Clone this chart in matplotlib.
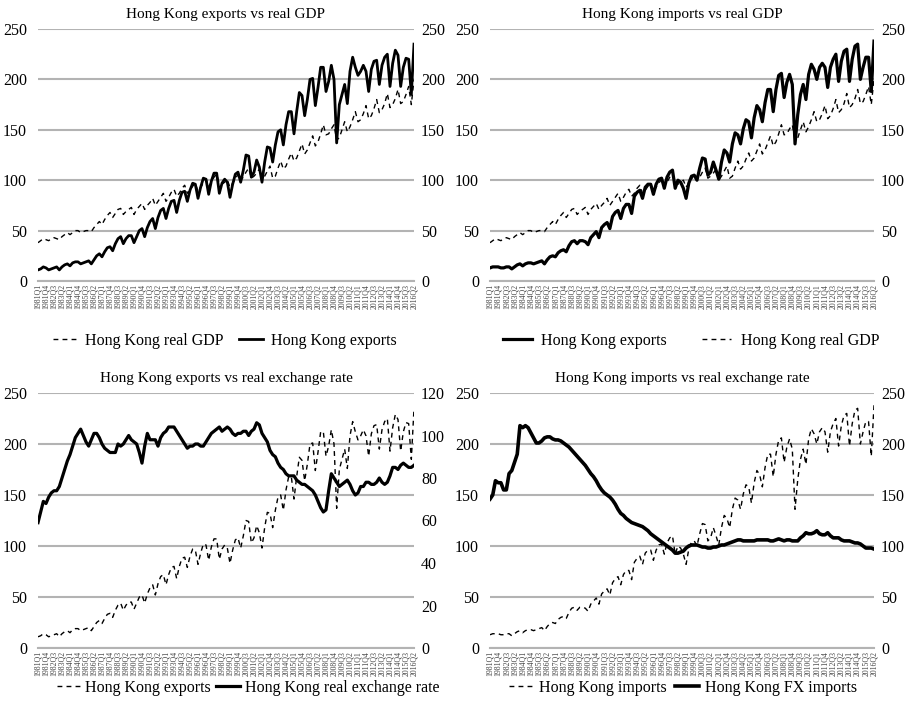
import matplotlib
matplotlib.use("Agg")
import matplotlib.pyplot as plt
from matplotlib.lines import Line2D

plt.rcParams['font.family'] = ['Liberation Serif', 'DejaVu Serif']

# quarterly data 1981Q1 .. 2016Q2 (142 quarters)
years = list(range(1981, 2017))
quarters = [f"{y}Q{q}" for y in years for q in range(1, 5)][:142]
tick_labels = quarters[::3]

exports = [
    11, 12, 14, 13,  11, 12, 13, 14,  11, 14, 16, 17,  15, 18, 19, 19,
    17, 18, 19, 20,  17, 21, 25, 27,  24, 29, 33, 34,  30, 37, 42, 44,
    37, 42, 45, 45,  38, 44, 50, 52,  44, 53, 59, 62,  52, 63, 70, 72,
    62, 72, 79, 80,  68, 80, 88, 89,  79, 90, 97, 96,  82, 93, 102, 101,
    86, 99, 107, 107,  87, 97, 101, 98,  83, 96, 106, 108,  98, 110, 125, 124,
    103, 108, 120, 113,  98, 118, 133, 132,  118, 135, 148, 150,  135, 155, 168, 168,
    146, 168, 187, 184,  164, 180, 200, 201,  174, 192, 212, 212,  188, 198, 214, 200,
    137, 175, 185, 195,  176, 208, 222, 212,  204, 208, 214, 208,  188, 210, 218, 219,
    195, 214, 222, 225,  193, 216, 229, 224,  193, 212, 221, 220,  185, 235,
]

real_gdp = [
    38, 40, 42, 41,  40, 42, 43, 42,  41, 44, 46, 48,  46, 48, 50, 50,
    48, 49, 50, 50,  49, 53, 56, 59,  56, 61, 65, 68,  63, 67, 71, 72,
    66, 69, 71, 73,  66, 71, 74, 77,  71, 75, 78, 82,  75, 79, 83, 87,
    79, 83, 88, 91,  84, 87, 92, 95,  87, 90, 94, 97,  89, 93, 97, 101,
    94, 98, 103, 106,  96, 96, 98, 100,  93, 97, 101, 106,  100, 103, 108, 112,
    102, 104, 107, 111,  100, 104, 109, 114,  102, 104, 112, 119,  111, 114, 121, 127,
    119, 122, 129, 136,  126, 130, 137, 144,  134, 138, 146, 155,  145, 146, 151, 155,
    140, 142, 150, 158,  148, 153, 160, 168,  158, 160, 166, 174,  161, 164, 171, 180,
    167, 170, 176, 186,  172, 175, 181, 190,  176, 178, 185, 193,  175, 200,
]

imports = [
    13, 14, 14, 14,  13, 13, 14, 14,  12, 14, 16, 17,  15, 17, 18, 18,
    17, 18, 19, 20,  17, 21, 24, 25,  24, 28, 30, 31,  29, 35, 39, 40,
    37, 40, 40, 39,  36, 43, 46, 49,  43, 53, 56, 58,  52, 64, 68, 70,
    62, 72, 76, 76,  67, 84, 88, 90,  82, 93, 96, 96,  86, 96, 101, 102,
    92, 103, 108, 110,  92, 100, 98, 92,  82, 97, 104, 105,  100, 112, 122, 121,
    105, 108, 118, 110,  101, 118, 130, 127,  118, 136, 147, 145,  136, 151, 160, 158,
    142, 162, 174, 170,  158, 177, 190, 190,  168, 190, 204, 206,  182, 197, 205, 195,
    136, 165, 185, 195,  180, 205, 215, 210,  200, 212, 216, 212,  192, 212, 220, 225,
    198, 218, 228, 230,  198, 220, 233, 235,  200, 212, 222, 222,  188, 238,
]

real_fx = [
    59, 64, 69, 68, 71, 73, 74, 74, 76, 80, 84, 88, 91, 95, 99, 101,
    103, 100, 97, 95, 98, 101, 101, 99, 96, 94, 93, 92, 92, 92, 96, 95,
    96, 98, 100, 98, 97, 96, 92, 87, 95, 101, 98, 98, 98, 95, 99, 101,
    102, 104, 104, 104, 102, 100, 98, 96, 94, 95, 95, 96, 96, 95, 95, 97,
    99, 101, 102, 103, 104, 102, 103, 104, 103, 101, 100, 101, 101, 102, 102, 100,
    102, 103, 106, 105, 101, 99, 97, 93, 91, 90, 87, 85, 84, 82, 81, 81,
    81, 79, 78, 77, 77, 76, 75, 74, 72, 69, 66, 64, 65, 74, 82, 80,
    78, 76, 77, 78, 79, 77, 74, 72, 73, 76, 76, 78, 78, 77, 77, 78,
    80, 78, 77, 78, 81, 85, 85, 84, 86, 87, 86, 85, 85, 86,
]

fx_imports = [
    146, 150, 164, 162, 162, 155, 155, 171, 174, 182, 190, 218, 216, 218, 216, 211,
    206, 201, 201, 203, 206, 207, 207, 205, 204, 204, 203, 201, 199, 197, 194, 191,
    188, 185, 182, 179, 175, 171, 168, 164, 159, 155, 152, 150, 148, 145, 141, 136,
    132, 130, 127, 125, 123, 122, 121, 120, 119, 117, 115, 112, 110, 108, 106, 104,
    102, 100, 98, 96, 93, 93, 94, 95, 98, 100, 101, 101, 101, 100, 99, 99,
    98, 98, 99, 99, 100, 101, 101, 102, 103, 104, 105, 106, 106, 105, 105, 105,
    105, 105, 106, 106, 106, 106, 106, 105, 105, 106, 107, 106, 105, 106, 106, 105,
    105, 105, 108, 110, 113, 112, 112, 113, 115, 112, 111, 111, 113, 110, 108, 108,
    108, 106, 105, 105, 105, 104, 103, 103, 102, 100, 98, 98, 98, 97,
]

W, H = 912, 709
GRID = '#b3b3b3'
DASH = (0, (3.5, 3))

fig = plt.figure(figsize=(W / 100, H / 100), dpi=100)


def px_axes(x0, y_top, x1, y_bot):
    return fig.add_axes([x0 / W, 1 - y_bot / H, (x1 - x0) / W, (y_bot - y_top) / H])


def setup_panel(ax, title, right_max, right_step):
    x = list(range(len(quarters)))
    ax.set_xlim(0, len(quarters) - 1)
    ax.set_ylim(0, 250)
    ax.set_yticks(range(0, 251, 50))
    ax.yaxis.grid(True, color=GRID, linewidth=1.5)
    ax.set_axisbelow(True)
    for s in ['top', 'right', 'left']:
        ax.spines[s].set_visible(False)
    ax.spines['bottom'].set_color(GRID)
    ax.spines['bottom'].set_linewidth(1.5)
    ax.set_xticks(x[::3])
    ax.set_xticklabels(tick_labels, rotation=90, fontsize=5.6, color='#444444')
    ax.tick_params(axis='both', length=0)
    ax.tick_params(axis='x', pad=2)
    ax.tick_params(axis='y', labelsize=11.5, pad=8)
    ax.set_title(title, fontsize=11, pad=8)

    ax2 = ax.twinx()
    ax2.set_ylim(0, right_max)
    ax2.set_yticks(range(0, right_max + 1, right_step))
    ax2.tick_params(axis='y', length=0, labelsize=11.5, pad=5)
    for s in ax2.spines.values():
        s.set_visible(False)
    return x, ax2


def add_legend(handles, labels, cx, cy, hl, cs, tp):
    fig.legend(handles=handles, labels=labels, loc='center',
               bbox_to_anchor=(cx / W, 1 - cy / H), ncol=2, frameon=False,
               fontsize=11.5, handlelength=hl, columnspacing=cs,
               handletextpad=tp)


# top left
ax = px_axes(38, 29, 414, 281)
x, ax2 = setup_panel(ax, 'Hong Kong exports vs real GDP', 250, 50)
ax.plot(x, exports, color='black', linewidth=2.0)
ax2.plot(x, real_gdp, color='black', linewidth=1.0, linestyle=DASH)
add_legend([Line2D([], [], color='black', lw=1.0, ls=DASH),
            Line2D([], [], color='black', lw=2.0)],
           ['Hong Kong real GDP', 'Hong Kong exports'], 225, 341, 1.5, 1.0, 0.5)

# top right
ax = px_axes(490, 29, 874, 281)
x, ax2 = setup_panel(ax, 'Hong Kong imports vs real GDP', 250, 50)
ax.plot(x, imports, color='black', linewidth=2.3)
ax2.plot(x, real_gdp, color='black', linewidth=1.0, linestyle=DASH)
add_legend([Line2D([], [], color='black', lw=2.3),
            Line2D([], [], color='black', lw=1.0, ls=DASH)],
           ['Hong Kong exports', 'Hong Kong real GDP'], 691, 341, 1.8, 2.2, 0.6)

# bottom left
ax = px_axes(38, 393, 414, 648)
x, ax2 = setup_panel(ax, 'Hong Kong exports vs real exchange rate', 120, 20)
ax.plot(x, exports, color='black', linewidth=1.0, linestyle=DASH)
ax2.plot(x, real_fx, color='black', linewidth=2.3)
add_legend([Line2D([], [], color='black', lw=1.0, ls=DASH),
            Line2D([], [], color='black', lw=2.3)],
           ['Hong Kong exports', 'Hong Kong real exchange rate'], 248, 688, 1.5, 0.3, 0.3)

# bottom right
ax = px_axes(490, 393, 874, 648)
x, ax2 = setup_panel(ax, 'Hong Kong imports vs real exchange rate', 250, 50)
ax.plot(x, imports, color='black', linewidth=1.0, linestyle=DASH)
ax2.plot(x, fx_imports, color='black', linewidth=2.6)
add_legend([Line2D([], [], color='black', lw=1.0, ls=DASH),
            Line2D([], [], color='black', lw=2.6)],
           ['Hong Kong imports', 'Hong Kong FX imports'], 683, 688, 1.5, 0.5, 0.4)

fig.savefig('out.png', dpi=100)
